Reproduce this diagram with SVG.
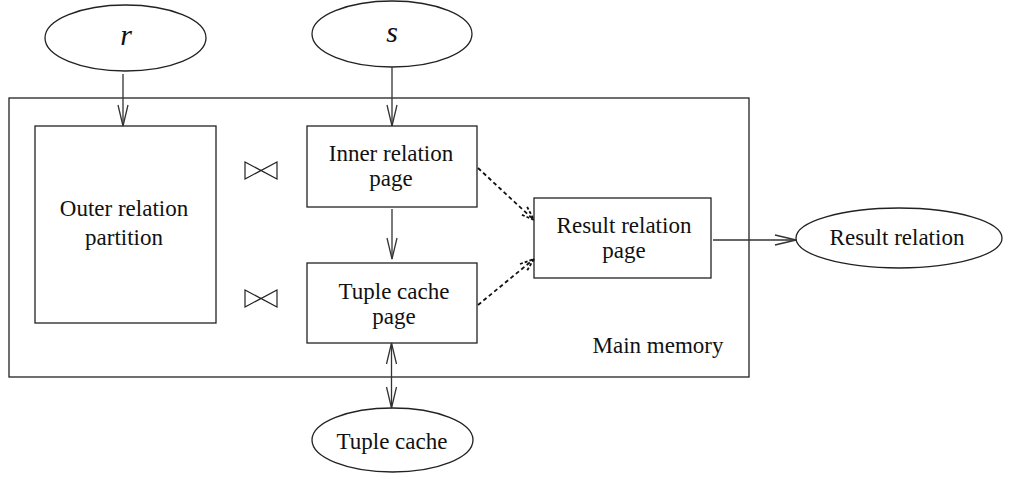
<svg xmlns="http://www.w3.org/2000/svg" width="1018" height="478" viewBox="0 0 1018 478">
  <style>
    .box { fill: none; stroke: #222; stroke-width: 1.3; }
    .oval { fill: #fff; stroke: #222; stroke-width: 1.3; }
    .lbl { font-family: "Liberation Serif", "Times New Roman", serif; font-size: 23px; fill: #111; text-anchor: middle; }
    .var { font-family: "Liberation Serif", "Times New Roman", serif; font-size: 30px; font-style: italic; fill: #111; text-anchor: middle; }
    .flow { fill: none; stroke: #333; stroke-width: 1.3; }
    .dash { fill: none; stroke: #111; stroke-width: 1.8; stroke-dasharray: 4 3; }
    .join { fill: none; stroke: #222; stroke-width: 1.2; }
  </style>
  <defs>
    <marker id="vee" viewBox="-22 -7 24 14" refX="0" refY="0" markerWidth="24" markerHeight="14" markerUnits="userSpaceOnUse" orient="auto-start-reverse">
      <path d="M-21,-5 L0,0 L-21,5" fill="none" stroke="#333" stroke-width="1.3"/>
    </marker>
    <marker id="veeDash" viewBox="-16 -7 18 14" refX="0" refY="0" markerWidth="18" markerHeight="14" markerUnits="userSpaceOnUse" orient="auto">
      <path d="M-14,-5 L0,0 L-14,5" fill="none" stroke="#111" stroke-width="1.8" stroke-dasharray="3 2"/>
    </marker>
  </defs>

  <!-- main memory region -->
  <g id="main-memory">
    <rect class="box" x="9" y="98" width="740" height="279"/>
    <text class="lbl" x="658" y="353">Main memory</text>
  </g>

  <g id="r">
    <ellipse class="oval" cx="125.5" cy="38" rx="80.5" ry="33"/>
    <text class="var" x="126" y="45">r</text>
  </g>

  <g id="s">
    <ellipse class="oval" cx="392" cy="34" rx="80" ry="33"/>
    <text class="var" x="392" y="42">s</text>
  </g>

  <g id="outer-partition">
    <rect class="box" x="35" y="126" width="181" height="197"/>
    <text class="lbl" x="124" y="216">Outer relation</text>
    <text class="lbl" x="124" y="245">partition</text>
  </g>

  <g id="inner-page">
    <rect class="box" x="307" y="126" width="170" height="81"/>
    <text class="lbl" x="391" y="161">Inner relation</text>
    <text class="lbl" x="391" y="186">page</text>
  </g>

  <g id="tuple-cache-page">
    <rect class="box" x="307" y="263" width="170" height="80"/>
    <text class="lbl" x="394" y="299">Tuple cache</text>
    <text class="lbl" x="394" y="324">page</text>
  </g>

  <g id="result-page">
    <rect class="box" x="534" y="198" width="177" height="80"/>
    <text class="lbl" x="624" y="233">Result relation</text>
    <text class="lbl" x="624" y="258">page</text>
  </g>

  <g id="result-relation">
    <ellipse class="oval" cx="899" cy="238" rx="103" ry="30"/>
    <text class="lbl" x="897" y="245">Result relation</text>
  </g>

  <g id="tuple-cache">
    <ellipse class="oval" cx="392.5" cy="440" rx="80.5" ry="32"/>
    <text class="lbl" x="392" y="449">Tuple cache</text>
  </g>

  <!-- join symbols -->
  <g id="join-inner">
    <path class="join" d="M245,162 V179 L277,162 V179 Z"/>
  </g>
  <g id="join-cache">
    <path class="join" d="M245,290 V307 L277,290 V307 Z"/>
  </g>

  <g id="connectors">
    <line class="flow" x1="123" y1="74" x2="123" y2="126" marker-end="url(#vee)"/>
    <line class="flow" x1="392" y1="67" x2="392" y2="126" marker-end="url(#vee)"/>
    <line class="flow" x1="392" y1="209" x2="392" y2="259" marker-end="url(#vee)"/>
    <line class="flow" x1="391.5" y1="343" x2="391.5" y2="408" marker-start="url(#vee)" marker-end="url(#vee)"/>
    <line class="flow" x1="713" y1="240" x2="796" y2="240" marker-end="url(#vee)"/>
    <line class="dash" x1="478" y1="168" x2="534" y2="220" marker-end="url(#veeDash)"/>
    <line class="dash" x1="478" y1="305" x2="534" y2="259" marker-end="url(#veeDash)"/>
  </g>
</svg>
